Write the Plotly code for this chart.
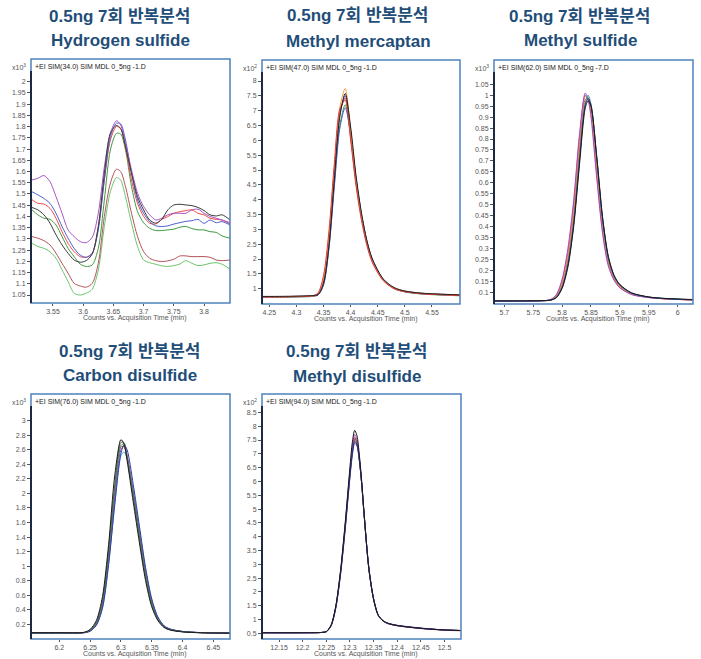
import plotly.graph_objects as go

W, H = 701, 659

# ---------------- Hydrogen sulfide (x10^3) ----------------
H2S_T = [3.515, 3.525, 3.535, 3.545, 3.555, 3.565, 3.575, 3.585, 3.595, 3.605, 3.615, 3.625, 3.635, 3.645,
         3.655, 3.662, 3.67, 3.68, 3.69, 3.70, 3.71, 3.72, 3.73, 3.74, 3.75, 3.76, 3.77, 3.78, 3.79, 3.80,
         3.81, 3.82, 3.83, 3.843]
H2S_PURPLE = [1.562, 1.570, 1.582, 1.555, 1.488, 1.414, 1.340, 1.310, 1.288, 1.283, 1.307, 1.414, 1.620, 1.770,
              1.826, 1.807, 1.725, 1.607, 1.503, 1.444, 1.407, 1.384, 1.392, 1.407, 1.414, 1.414, 1.414, 1.429,
              1.432, 1.414, 1.400, 1.392, 1.384, 1.372]
H2S_BLUE = [1.510, 1.496, 1.480, 1.458, 1.414, 1.355, 1.303, 1.258, 1.228, 1.218, 1.236, 1.340, 1.562, 1.755,
            1.815, 1.812, 1.740, 1.592, 1.473, 1.414, 1.377, 1.358, 1.355, 1.358, 1.366, 1.372, 1.378, 1.381,
            1.387, 1.369, 1.384, 1.372, 1.377, 1.362]
H2S_RED = [1.475, 1.458, 1.455, 1.436, 1.392, 1.332, 1.280, 1.243, 1.221, 1.218, 1.236, 1.355, 1.562, 1.740,
           1.800, 1.790, 1.710, 1.562, 1.458, 1.400, 1.370, 1.366, 1.387, 1.399, 1.414, 1.421, 1.426, 1.429,
           1.414, 1.407, 1.392, 1.387, 1.384, 1.366]
H2S_BLACK = [1.440, 1.429, 1.407, 1.370, 1.318, 1.273, 1.236, 1.206, 1.196, 1.203, 1.233, 1.355, 1.592, 1.770,
             1.805, 1.792, 1.710, 1.592, 1.488, 1.429, 1.384, 1.370, 1.387, 1.429, 1.451, 1.454, 1.451, 1.448,
             1.440, 1.426, 1.407, 1.402, 1.407, 1.384]
H2S_DKGREEN = [1.430, 1.407, 1.392, 1.387, 1.362, 1.310, 1.258, 1.221, 1.188, 1.177, 1.184, 1.258, 1.473, 1.696,
               1.770, 1.767, 1.696, 1.533, 1.421, 1.372, 1.347, 1.337, 1.337, 1.340, 1.343, 1.352, 1.355, 1.346,
               1.340, 1.340, 1.332, 1.329, 1.313, 1.303]
H2S_BROWN = [1.310, 1.303, 1.292, 1.273, 1.236, 1.191, 1.147, 1.102, 1.090, 1.085, 1.102, 1.191, 1.400, 1.548,
             1.610, 1.600, 1.533, 1.414, 1.310, 1.243, 1.214, 1.203, 1.199, 1.202, 1.209, 1.224, 1.224, 1.221,
             1.221, 1.221, 1.218, 1.206, 1.203, 1.206]
H2S_LTGREEN = [1.280, 1.266, 1.258, 1.243, 1.214, 1.162, 1.110, 1.058, 1.050, 1.058, 1.076, 1.162, 1.355, 1.510,
               1.573, 1.562, 1.488, 1.369, 1.266, 1.206, 1.194, 1.187, 1.180, 1.177, 1.181, 1.188, 1.203, 1.191,
               1.181, 1.184, 1.191, 1.194, 1.187, 1.165]
H2S_XTICKS = [3.55, 3.6, 3.65, 3.7, 3.75, 3.8]
H2S_YTICKS = [1.05, 1.1, 1.15, 1.2, 1.25, 1.3, 1.35, 1.4, 1.45, 1.5, 1.55, 1.6, 1.65, 1.7, 1.75, 1.8, 1.85,
              1.9, 1.95, 2]

# ---------------- Methyl mercaptan (x10^2) ----------------
MM_T = [4.236, 4.26, 4.30, 4.33, 4.34, 4.35, 4.36, 4.37, 4.38, 4.39, 4.40, 4.41, 4.42, 4.43, 4.44, 4.46,
        4.48, 4.50, 4.53, 4.56, 4.602]
MM_ORANGE = [0.73, 0.73, 0.74, 0.76, 0.84, 1.35, 2.8, 5.1, 7.1, 7.75, 6.3, 4.65, 3.45, 2.55, 1.95, 1.30, 1.02, 0.91, 0.84, 0.81, 0.78]
MM_RED = [0.72, 0.72, 0.73, 0.76, 0.86, 1.45, 2.95, 5.25, 7.05, 7.35, 6.0, 4.45, 3.3, 2.45, 1.88, 1.27, 1.00, 0.90, 0.83, 0.80, 0.77]
MM_GREEN = [0.71, 0.71, 0.72, 0.74, 0.79, 1.15, 2.4, 4.55, 6.5, 7.2, 6.15, 4.6, 3.42, 2.55, 1.95, 1.30, 1.0, 0.89, 0.82, 0.79, 0.76]
MM_BLUE = [0.72, 0.72, 0.73, 0.75, 0.79, 1.12, 2.35, 4.45, 6.4, 7.1, 6.2, 4.7, 3.5, 2.6, 2.0, 1.32, 1.02, 0.90, 0.83, 0.80, 0.77]
MM_PURPLE = [0.73, 0.73, 0.74, 0.76, 0.81, 1.22, 2.55, 4.8, 6.85, 7.5, 6.35, 4.72, 3.5, 2.6, 1.98, 1.32, 1.03, 0.92, 0.85, 0.82, 0.79]
MM_BROWN = [0.73, 0.73, 0.74, 0.76, 0.83, 1.3, 2.7, 5.0, 6.95, 7.42, 6.1, 4.55, 3.38, 2.5, 1.92, 1.29, 1.01, 0.9, 0.84, 0.81, 0.78]
MM_BLACK = [0.74, 0.74, 0.75, 0.77, 0.80, 1.18, 2.45, 4.7, 6.8, 7.58, 6.45, 4.8, 3.55, 2.62, 2.0, 1.33, 1.04, 0.92, 0.85, 0.82, 0.79]
MM_XTICKS = [4.25, 4.3, 4.35, 4.4, 4.45, 4.5, 4.55]
MM_YTICKS = [1, 1.5, 2, 2.5, 3, 3.5, 4, 4.5, 5, 5.5, 6, 6.5, 7, 7.5, 8]

# ---------------- Methyl sulfide (x10^3) ----------------
MS_T = [5.682, 5.72, 5.76, 5.78, 5.79, 5.80, 5.81, 5.82, 5.83, 5.84, 5.845, 5.85, 5.86, 5.87, 5.88, 5.89,
        5.90, 5.92, 5.95, 5.98, 6.027]
MS_PURPLE = [0.06, 0.06, 0.061, 0.067, 0.09, 0.16, 0.30, 0.52, 0.82, 1.01, 0.98, 0.90, 0.62, 0.37, 0.22, 0.155, 0.12, 0.09, 0.076, 0.07, 0.065]
MS_ORANGE = [0.06, 0.06, 0.061, 0.066, 0.085, 0.145, 0.27, 0.48, 0.78, 0.995, 0.985, 0.93, 0.66, 0.40, 0.235, 0.16, 0.125, 0.092, 0.077, 0.07, 0.065]
MS_MAGENTA = [0.06, 0.06, 0.061, 0.066, 0.087, 0.15, 0.28, 0.50, 0.80, 1.0, 0.98, 0.92, 0.64, 0.385, 0.23, 0.158, 0.123, 0.091, 0.076, 0.07, 0.065]
MS_RED = [0.06, 0.06, 0.061, 0.065, 0.082, 0.135, 0.25, 0.45, 0.75, 0.98, 0.99, 0.94, 0.68, 0.41, 0.24, 0.165, 0.128, 0.094, 0.077, 0.07, 0.065]
MS_TEAL = [0.06, 0.06, 0.061, 0.064, 0.078, 0.125, 0.23, 0.42, 0.71, 0.965, 1.0, 0.96, 0.71, 0.43, 0.255, 0.172, 0.132, 0.096, 0.078, 0.071, 0.066]
MS_NAVY = [0.06, 0.06, 0.061, 0.065, 0.077, 0.122, 0.225, 0.41, 0.70, 0.955, 0.985, 0.955, 0.715, 0.44, 0.26, 0.175, 0.134, 0.097, 0.078, 0.071, 0.066]
MS_BLACK = [0.061, 0.061, 0.062, 0.064, 0.075, 0.118, 0.215, 0.40, 0.68, 0.94, 0.975, 0.95, 0.72, 0.445, 0.265, 0.178, 0.136, 0.098, 0.079, 0.072, 0.067]
MS_XTICKS = [5.7, 5.75, 5.8, 5.85, 5.9, 5.95, 6]
MS_YTICKS = [0.1, 0.15, 0.2, 0.25, 0.3, 0.35, 0.4, 0.45, 0.5, 0.55, 0.6, 0.65, 0.7, 0.75, 0.8, 0.85, 0.9,
             0.95, 1, 1.05]

# ---------------- Carbon disulfide (x10^3) ----------------
CS2_T = [6.154, 6.20, 6.24, 6.25, 6.26, 6.27, 6.28, 6.29, 6.30, 6.305, 6.31, 6.32, 6.33, 6.34, 6.35, 6.36,
         6.37, 6.38, 6.40, 6.43, 6.477]
CS2_GREEN = [0.08, 0.08, 0.086, 0.115, 0.215, 0.49, 1.17, 2.05, 2.66, 2.68, 2.5, 1.98, 1.42, 0.88, 0.49, 0.275, 0.168, 0.128, 0.1, 0.085, 0.08]
CS2_MAROON = [0.08, 0.08, 0.086, 0.118, 0.22, 0.5, 1.18, 2.05, 2.64, 2.64, 2.48, 1.97, 1.41, 0.87, 0.485, 0.272, 0.166, 0.127, 0.099, 0.084, 0.079]
CS2_PURPLE = [0.08, 0.08, 0.085, 0.11, 0.2, 0.46, 1.1, 1.95, 2.6, 2.65, 2.52, 2.02, 1.46, 0.91, 0.51, 0.285, 0.172, 0.13, 0.1, 0.085, 0.08]
CS2_CYAN = [0.08, 0.08, 0.084, 0.107, 0.19, 0.43, 1.04, 1.86, 2.52, 2.57, 2.48, 2.04, 1.5, 0.95, 0.53, 0.29, 0.175, 0.132, 0.1, 0.085, 0.08]
CS2_BLUE = [0.08, 0.08, 0.084, 0.105, 0.185, 0.42, 1.02, 1.85, 2.55, 2.67, 2.6, 2.12, 1.55, 0.98, 0.55, 0.3, 0.18, 0.135, 0.102, 0.086, 0.08]
CS2_GRAY = [0.082, 0.082, 0.087, 0.12, 0.225, 0.52, 1.22, 2.12, 2.7, 2.7, 2.5, 1.95, 1.38, 0.85, 0.47, 0.265, 0.162, 0.125, 0.098, 0.084, 0.079]
CS2_BLACK = [0.085, 0.085, 0.09, 0.13, 0.25, 0.58, 1.3, 2.25, 2.74, 2.68, 2.45, 1.88, 1.32, 0.8, 0.44, 0.25, 0.155, 0.12, 0.095, 0.083, 0.078]
CS2_XTICKS = [6.2, 6.25, 6.3, 6.35, 6.4, 6.45]
CS2_YTICKS = [0.2, 0.4, 0.6, 0.8, 1, 1.2, 1.4, 1.6, 1.8, 2, 2.2, 2.4, 2.6, 2.8, 3]

# ---------------- Methyl disulfide (x10^2) ----------------
DMDS_T = [12.114, 12.20, 12.24, 12.25, 12.26, 12.27, 12.28, 12.29, 12.30, 12.305, 12.31, 12.315, 12.32, 12.325,
          12.33, 12.34, 12.35, 12.36, 12.37, 12.38, 12.40, 12.45, 12.50, 12.535]
DMDS_PURPLE = [0.52, 0.52, 0.53, 0.56, 0.78, 1.46, 2.72, 4.45, 6.4, 7.25, 7.7, 7.5, 6.85, 5.92, 4.8, 2.84, 1.74, 1.15, 0.95, 0.86, 0.78, 0.68, 0.62, 0.6]
DMDS_RED = [0.52, 0.52, 0.53, 0.56, 0.78, 1.45, 2.7, 4.4, 6.32, 7.12, 7.6, 7.42, 6.8, 5.88, 4.78, 2.83, 1.73, 1.14, 0.94, 0.85, 0.77, 0.67, 0.61, 0.59]
DMDS_GREEN = [0.52, 0.52, 0.53, 0.56, 0.77, 1.43, 2.66, 4.33, 6.22, 7.02, 7.5, 7.35, 6.78, 5.9, 4.8, 2.86, 1.75, 1.15, 0.95, 0.86, 0.78, 0.68, 0.62, 0.6]
DMDS_MAROON = [0.52, 0.52, 0.53, 0.56, 0.78, 1.44, 2.68, 4.37, 6.28, 7.08, 7.55, 7.4, 6.8, 5.89, 4.79, 2.84, 1.74, 1.15, 0.95, 0.86, 0.78, 0.68, 0.62, 0.6]
DMDS_BLUE = [0.52, 0.52, 0.53, 0.55, 0.76, 1.4, 2.6, 4.25, 6.12, 6.92, 7.38, 7.28, 6.75, 5.9, 4.82, 2.88, 1.76, 1.16, 0.95, 0.86, 0.78, 0.68, 0.62, 0.6]
DMDS_NAVY = [0.52, 0.52, 0.53, 0.56, 0.77, 1.42, 2.64, 4.3, 6.2, 7.0, 7.45, 7.32, 6.76, 5.9, 4.82, 2.87, 1.76, 1.16, 0.96, 0.87, 0.79, 0.69, 0.62, 0.6]
DMDS_BLACK = [0.52, 0.52, 0.53, 0.56, 0.79, 1.48, 2.75, 4.5, 6.5, 7.4, 7.85, 7.65, 6.95, 6.0, 4.85, 2.85, 1.74, 1.15, 0.95, 0.86, 0.78, 0.68, 0.62, 0.6]
DMDS_XTICKS = [12.15, 12.2, 12.25, 12.3, 12.35, 12.4, 12.45, 12.5]
DMDS_YTICKS = [0.5, 1, 1.5, 2, 2.5, 3, 3.5, 4, 4.5, 5, 5.5, 6, 6.5, 7, 7.5, 8, 8.5]

TITLE_TOP = "0.5ng 7회 반복분석"
COMPOUNDS = ["Hydrogen sulfide", "Methyl mercaptan", "Methyl sulfide", "Carbon disulfide", "Methyl disulfide"]
SIM_LABELS = ["+EI SIM(34.0) SIM MDL 0_5ng -1.D", "+EI SIM(47.0) SIM MDL 0_5ng -1.D",
              "+EI SIM(62.0) SIM MDL 0_5ng -7.D", "+EI SIM(76.0) SIM MDL 0_5ng -1.D",
              "+EI SIM(94.0) SIM MDL 0_5ng -1.D"]
EXPONENTS = ["3", "2", "3", "3", "2"]
X_TITLE = "Counts vs. Acquisition Time (min)"

panels = [
    dict(t=H2S_T, series=[(H2S_LTGREEN, "#6cc56c"), (H2S_BROWN, "#b5525a"), (H2S_DKGREEN, "#3f9a3f"),
                          (H2S_RED, "#f04a4a"), (H2S_BLUE, "#4a5fcf"), (H2S_PURPLE, "#a654c4"),
                          (H2S_BLACK, "#3a3a3a")],
         box=(31, 59, 230, 303), xr=[3.5136, 3.843], yr=[1.0144, 2.101], xt=H2S_XTICKS, yt=H2S_YTICKS,
         tc=120, ty=(17, 40)),
    dict(t=MM_T, series=[(MM_GREEN, "#3fa03f"), (MM_BLUE, "#4060d0"), (MM_PURPLE, "#9a4cc0"),
                         (MM_BROWN, "#a04848"), (MM_ORANGE, "#f5a040"), (MM_RED, "#e83c3c"),
                         (MM_BLACK, "#202020")],
         box=(262, 60, 460, 304), xr=[4.2365, 4.6017], yr=[0.484, 8.708], xt=MM_XTICKS, yt=MM_YTICKS,
         tc=358, ty=(16, 41)),
    dict(t=MS_T, series=[(MS_RED, "#e04848"), (MS_MAGENTA, "#d0408a"), (MS_ORANGE, "#f09030"),
                         (MS_PURPLE, "#a048c8"), (MS_TEAL, "#20a8a0"), (MS_NAVY, "#303080"),
                         (MS_BLACK, "#1a1a1a")],
         box=(494, 60, 693, 304), xr=[5.682, 6.0267], yr=[0.0466, 1.161], xt=MS_XTICKS, yt=MS_YTICKS,
         tc=580, ty=(17, 40)),
    dict(t=CS2_T, series=[(CS2_CYAN, "#30c0c8"), (CS2_MAROON, "#a83a5a"), (CS2_PURPLE, "#8a44b0"),
                          (CS2_GREEN, "#34a034"), (CS2_BLUE, "#303aa8"), (CS2_GRAY, "#606060"),
                          (CS2_BLACK, "#1a1a1a")],
         box=(31, 394, 230, 639), xr=[6.154, 6.477], yr=[-0.0025, 3.368], xt=CS2_XTICKS, yt=CS2_YTICKS,
         tc=130, ty=(351, 375)),
    dict(t=DMDS_T, series=[(DMDS_GREEN, "#3fa03f"), (DMDS_RED, "#e04848"), (DMDS_MAROON, "#a04060"),
                           (DMDS_PURPLE, "#9a4cc0"), (DMDS_BLUE, "#4060d0"), (DMDS_NAVY, "#2a2a70"),
                           (DMDS_BLACK, "#1a1a1a")],
         box=(262, 394, 461, 639), xr=[12.114, 12.535], yr=[0.293, 9.167], xt=DMDS_XTICKS, yt=DMDS_YTICKS,
         tc=357, ty=(351, 376)),
]

fig = go.Figure()
layout = dict(width=W, height=H, margin=dict(l=0, r=0, t=0, b=0), paper_bgcolor="white",
              plot_bgcolor="white", showlegend=False)
annotations = []
shapes = []
FONT = "Arial, Liberation Sans, Noto Sans CJK KR, sans-serif"
TITLE_COLOR = "#1f4e79"
TICK_COLOR = "#555555"

for i, p in enumerate(panels):
    k = "" if i == 0 else str(i + 1)
    x0p, y0p, x1p, y1p = p["box"]
    for vals, col in p["series"]:
        fig.add_trace(go.Scatter(x=p["t"], y=vals, mode="lines",
                                 line=dict(color=col, width=1, shape="spline", smoothing=0.8),
                                 xaxis="x" + k, yaxis="y" + k, hoverinfo="skip"))
    layout["xaxis" + k] = dict(domain=[x0p / W, x1p / W], anchor="y" + k, range=p["xr"],
                               tickmode="array", tickvals=p["xt"], ticks="outside", ticklen=2, tickwidth=1,
                               tickcolor="#555", tickfont=dict(size=7, color=TICK_COLOR, family=FONT),
                               showgrid=False, zeroline=False, showline=False)
    layout["yaxis" + k] = dict(domain=[1 - y1p / H, 1 - y0p / H], anchor="x" + k, range=p["yr"],
                               tickmode="array", tickvals=p["yt"], ticks="outside", ticklen=3, tickwidth=1,
                               tickcolor="#555", tickfont=dict(size=7, color=TICK_COLOR, family=FONT),
                               showgrid=False, zeroline=False, showline=False)
    # frame
    shapes.append(dict(type="rect", xref="paper", yref="paper", x0=x0p / W, x1=x1p / W,
                       y0=1 - y1p / H, y1=1 - y0p / H, line=dict(color="#4f81bd", width=1.5), layer="above"))
    shapes.append(dict(type="line", xref="paper", yref="paper", x0=x0p / W, x1=x0p / W,
                       y0=1 - y1p / H, y1=1 - (y0p + 12) / H, line=dict(color="#1c2a44", width=2), layer="above"))
    # titles
    annotations.append(dict(text="<b>" + TITLE_TOP + "</b>", x=p["tc"] / W, y=1 - p["ty"][0] / H,
                            xref="paper", yref="paper", xanchor="center", yanchor="middle", showarrow=False,
                            font=dict(size=17, color=TITLE_COLOR, family=FONT)))
    annotations.append(dict(text="<b>" + COMPOUNDS[i] + "</b>", x=p["tc"] / W, y=1 - p["ty"][1] / H,
                            xref="paper", yref="paper", xanchor="center", yanchor="middle", showarrow=False,
                            font=dict(size=17, color=TITLE_COLOR, family=FONT)))
    # SIM label
    annotations.append(dict(text=SIM_LABELS[i], x=(x0p + 2) / W, y=1 - (y0p + 8) / H, xref="paper",
                            yref="paper", xanchor="left", yanchor="middle", showarrow=False,
                            font=dict(size=7, color="#222222", family=FONT)))
    # exponent
    annotations.append(dict(text="x10<sup>" + EXPONENTS[i] + "</sup>", x=(x0p - 3) / W, y=1 - (y0p + 8) / H,
                            xref="paper", yref="paper", xanchor="right", yanchor="middle", showarrow=False,
                            font=dict(size=7, color="#555555", family=FONT)))
    # x title
    annotations.append(dict(text=X_TITLE, x=((x0p + x1p) / 2 + 4) / W, y=1 - (y1p + 15) / H, xref="paper",
                            yref="paper", xanchor="center", yanchor="middle", showarrow=False,
                            font=dict(size=7, color="#555555", family=FONT)))

layout["annotations"] = annotations
layout["shapes"] = shapes
fig.update_layout(**layout)
fig.write_html("out.html", config={"displayModeBar": False},
               post_script="document.body.style.margin='0px';")
